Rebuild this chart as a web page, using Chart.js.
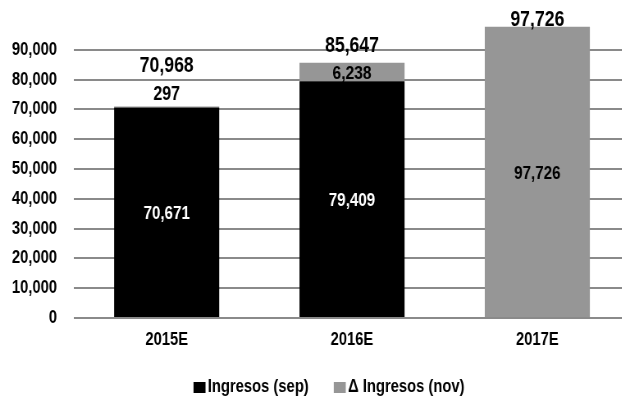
<!DOCTYPE html>
<html>
<head>
<meta charset="utf-8">
<script src="https://cdn.jsdelivr.net/npm/chart.js@4.4.1/dist/chart.umd.min.js"></script>
<style>
  html, body { margin: 0; padding: 0; background: #fff; overflow: hidden; }
</style>
</head>
<body>
<!-- drawn wide and shown narrower, giving the condensed bold type -->
<canvas id="c" width="768" height="399" style="width:630px;height:399px;display:block"></canvas>
<script>
// Revenue estimates per year, split into the September figure and the November change
const categories = ['2015E', '2016E', '2017E'];
const ingresosSep = [70671, 79409, 0];
const deltaIngresosNov = [297, 6238, 97726];
const seriesNames = ['Ingresos (sep)', '\u0394 Ingresos (nov)'];
const seriesColors = ['#000000', '#969696'];
const yTicksMax = 100000;
const yTickStep = 10000;

const SX = 630 / 768;            // horizontal squeeze of the canvas
const ix = v => v / SX;          // screen px -> canvas px (horizontal)
const FONT = '"Liberation Sans", Arial, sans-serif';
const fmt = v => v.toLocaleString('en-US');

// Value labels: segment values, stacked totals and the legend row
const valueLabels = {
  id: 'valueLabels',
  afterDatasetsDraw(chart) {
    const ctx = chart.ctx;
    const base = chart.getDatasetMeta(0);
    const top = chart.getDatasetMeta(1);
    ctx.save();
    ctx.textAlign = 'center';
    ctx.textBaseline = 'middle';
    categories.forEach((cat, i) => {
      const b = base.data[i];
      const t = top.data[i];
      const x = b.x;
      if (ingresosSep[i] > 0) {
        ctx.fillStyle = '#ffffff';
        ctx.font = 'bold 18.5px ' + FONT;
        ctx.fillText(fmt(ingresosSep[i]), x, (b.y + b.base) / 2 + 2);
      }
      const segH = Math.abs(t.base - t.y);
      let totalY;
      ctx.fillStyle = '#000000';
      if (ingresosSep[i] === 0) {
        ctx.font = 'bold 18.5px ' + FONT;
        ctx.fillText(fmt(deltaIngresosNov[i]), x, (t.y + t.base) / 2 + 2);
        totalY = t.y - 6.5;
      } else if (segH < 16) {
        ctx.font = 'bold 19.5px ' + FONT;
        ctx.fillText(fmt(deltaIngresosNov[i]), x, t.y - 11.5);
        totalY = t.y - 40;
      } else {
        ctx.font = 'bold 19px ' + FONT;
        ctx.fillText(fmt(deltaIngresosNov[i]), x, (t.y + t.base) / 2 + 1.5);
        totalY = t.y - 17;
      }
      ctx.font = 'bold 21.5px ' + FONT;
      ctx.fillText(fmt(ingresosSep[i] + deltaIngresosNov[i]), x, totalY);
    });
    ctx.restore();
  },
  afterDraw(chart) {
    // legend row under the axis
    const ctx = chart.ctx;
    ctx.save();
    ctx.font = 'bold 18px ' + FONT;
    ctx.textBaseline = 'middle';
    ctx.textAlign = 'left';
    const box = ix(12), gap = ix(2.3), spacing = ix(25);
    const items = chart.data.datasets.map(d => ({ text: d.label, color: d.backgroundColor }));
    const widths = items.map(it => ctx.measureText(it.text).width);
    let total = 0;
    items.forEach((it, k) => { total += box + gap + widths[k] + (k < items.length - 1 ? spacing : 0); });
    let x = ix(329) - total / 2;
    const yMid = 387.5;
    items.forEach((it, k) => {
      ctx.fillStyle = it.color;
      ctx.fillRect(x, yMid - 5.5, box, 11);
      x += box + gap;
      ctx.fillStyle = '#000';
      ctx.fillText(it.text, x, yMid);
      x += widths[k] + spacing;
    });
    ctx.restore();
  }
};

new Chart(document.getElementById('c'), {
  type: 'bar',
  data: {
    labels: categories,
    datasets: [
      { label: seriesNames[0], data: ingresosSep, backgroundColor: seriesColors[0] },
      { label: seriesNames[1], data: deltaIngresosNov, backgroundColor: seriesColors[1] }
    ]
  },
  options: {
    responsive: false,
    animation: false,
    devicePixelRatio: 1,
    categoryPercentage: 1,
    barPercentage: 0.567,
    layout: { padding: { top: 20, left: 0, right: 0, bottom: 0 } },
    plugins: {
      tooltip: { enabled: false },
      legend: { display: false }
    },
    scales: {
      x: {
        stacked: true,
        afterFit(scale) { scale.height = 81; },
        grid: { display: false, drawTicks: false },
        border: { display: false },
        ticks: {
          color: '#000',
          padding: 11,
          font: { family: FONT, size: 18, weight: 'bold' }
        }
      },
      y: {
        stacked: true,
        min: 0,
        max: yTicksMax,
        afterFit(scale) {
          scale.width = ix(74);
          scale.paddingTop = 0;
          scale.paddingBottom = 0;
        },
        border: { display: false },
        grid: {
          drawTicks: false,
          lineWidth: 2,
          color: ctx => (ctx.tick && ctx.tick.value === yTicksMax) ? 'rgba(0,0,0,0)' : '#8a8a8a'
        },
        ticks: {
          stepSize: yTickStep,
          padding: ix(17),
          color: '#000',
          font: { family: FONT, size: 18, weight: 'bold' },
          callback: v => (v === yTicksMax ? '' : fmt(v))
        }
      }
    }
  },
  plugins: [valueLabels]
});
</script>
</body>
</html>
